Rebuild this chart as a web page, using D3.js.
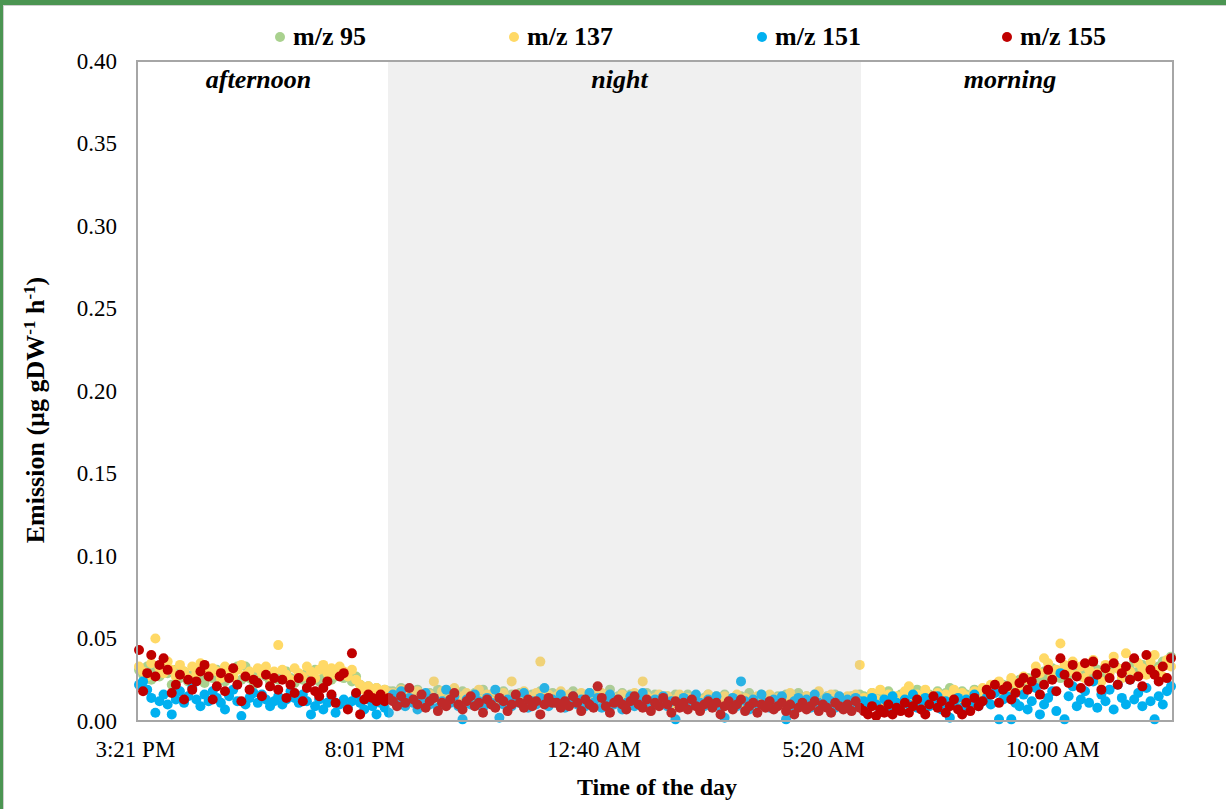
<!DOCTYPE html>
<html>
<head>
<meta charset="utf-8">
<script src="https://cdn.jsdelivr.net/npm/d3@7"></script>
<style>
  html, body { margin: 0; padding: 0; background: #ffffff; }
  svg { display: block; }
  text { font-family: "Liberation Serif", "Times New Roman", serif; fill: #000; }
</style>
</head>
<body>
<svg id="chart" width="1226" height="809"></svg>
<script>
// ---- DATA (sample index: one sample every 5 min starting 3:21 PM = index 0) ----
const seriesNames = ["m/z 95", "m/z 137", "m/z 151", "m/z 155"];
const seriesColors = ["#a9d18e", "#ffd966", "#00b0f0", "#c00000"];

const xTickIndex = [0, 56, 112, 168, 224];
const xTickLabels = ["3:21 PM", "8:01 PM", "12:40 AM", "5:20 AM", "10:00 AM"];
const yTicks = [0, 0.05, 0.10, 0.15, 0.20, 0.25, 0.30, 0.35, 0.40];

const periodNames = ["afternoon", "night", "morning"];
const nightStart = 61.8;   // ~8:30 PM
const nightEnd = 177.3;    // ~6:07 AM
const firstIndex = 1;

const mz95 = [
.031,.028,.033,.025,.030,.027,.034,.029,.022,.031,
.026,.030,.024,.028,.032,.027,.023,.029,.026,.031,
.028,.024,.030,.027,.033,.025,.033,.026,.022,.028,
.031,.027,.024,.029,.025,.028,.030,.026,.023,.028,
.025,.029,.027,.031,.024,.026,.029,.025,.027,.030,
.026,.028,.024,.027,.022,.019,.021,.018,.020,.017,
.019,.018,
.018,.015,.020,.013,.017,.014,.019,.016,.012,.017,
.015,.019,.013,.017,.014,.016,.012,.018,.015,.013,
.017,.014,.019,.012,.016,.015,.013,.018,.014,.016,
.013,.017,.015,.012,.016,.014,.018,.013,.015,.017,
.014,.016,.012,.015,.018,.013,.016,.014,.017,.015,
.013,.016,.014,.019,.012,.015,.017,.013,.016,.014,
.012,.015,.017,.013,.016,.014,.011,.015,.013,.016,
.014,.012,.016,.013,.015,.011,.014,.016,.012,.015,
.013,.016,.011,.014,.012,.015,.013,.017,.012,.014,
.016,.012,.014,.011,.015,.013,.016,.012,.014,.017,
.013,.015,.012,.016,.014,.011,.015,.013,.016,.012,
.014,.012,.015,.013,.016,
.015,.012,.017,.014,.016,.013,.018,.015,.012,.016,
.014,.017,.013,.019,.015,.012,.016,.014,.018,.013,
.017,.020,.015,.013,.018,.016,.014,.019,.017,.015,
.019,.016,.021,.018,.022,.020,.024,.021,.025,.023,
.026,.024,.028,.025,.030,.027,.032,.029,.026,.031,
.028,.033,.030,.027,.032,.029,.034,.031,.028,.033,
.030,.035,.032,.029,.033,.031,.036,.030,.034,.032,
.035,.031,.033,.036,.034,.039
];

const mz137 = [
.033,.030,.027,.035,.050,.032,.029,.036,.031,.027,
.034,.030,.026,.033,.029,.035,.031,.028,.032,.030,
.026,.033,.029,.027,.031,.034,.028,.030,.025,.032,
.029,.033,.027,.030,.046,.031,.028,.025,.032,.029,
.027,.033,.030,.026,.031,.034,.029,.032,.028,.033,
.030,.027,.031,.025,.022,.019,.021,.018,.020,.016,
.019,.017,
.017,.014,.019,.012,.016,.013,.018,.015,.011,.016,
.024,.014,.018,.012,.016,.020,.013,.015,.017,.011,
.015,.019,.013,.016,.012,.018,.014,.017,.010,.024,
.016,.013,.018,.015,.012,.017,.036,.014,.016,.012,
.015,.018,.013,.016,.011,.015,.017,.012,.014,.016,
.013,.017,.011,.015,.014,.012,.016,.010,.014,.017,
.012,.024,.015,.011,.014,.016,.012,.015,.010,.013,
.016,.011,.014,.012,.015,.010,.013,.016,.011,.014,
.012,.015,.010,.013,.016,.011,.014,.012,.009,.015,
.013,.011,.016,.012,.014,.010,.013,.017,.011,.014,
.012,.015,.010,.014,.018,.011,.013,.016,.012,.014,
.011,.015,.013,.016,.034,
.014,.011,.017,.013,.019,.012,.016,.010,.015,.013,
.018,.021,.014,.016,.012,.019,.015,.013,.017,.011,
.016,.014,.019,.012,.017,.015,.013,.018,.016,.020,
.017,.022,.019,.024,.021,.018,.026,.023,.020,.027,
.025,.022,.033,.029,.038,.035,.027,.031,.047,.034,
.030,.036,.028,.033,.026,.031,.037,.029,.024,.034,
.029,.039,.032,.026,.041,.030,.027,.035,.032,.028,
.036,.040,.031,.027,.037,.033
];

const mz151 = [
.022,.024,.019,.014,.005,.012,.016,.010,.004,.013,
.018,.011,.015,.020,.013,.009,.016,.012,.018,.014,
.011,.007,.015,.019,.012,.003,.010,.014,.017,.011,
.016,.013,.009,.012,.015,.010,.013,.018,.014,.011,
.016,.012,.004,.009,.013,.007,.011,.015,.005,.010,
.013,.008,.012,.016,.011,.007,.013,.009,.004,.011,
.008,.005,
.016,.012,.018,.009,.014,.011,.007,.013,.017,.010,
.014,.008,.012,.019,.011,.015,.009,.001,.013,.010,
.016,.012,.008,.014,.011,.019,.002,.010,.013,.009,
.015,.011,.017,.008,.012,.010,.014,.020,.009,.013,
.011,.016,.008,.012,.015,.010,.013,.009,.017,.011,
.014,.008,.012,.016,.010,.013,.007,.011,.015,.009,
.012,.017,.010,.008,.013,.011,.015,.009,.012,.001,
.010,.014,.008,.012,.016,.011,.009,.013,.010,.015,
.008,.002,.011,.014,.009,.024,.012,.007,.013,.010,
.016,.011,.008,.013,.010,.015,.001,.009,.012,.014,
.010,.013,.008,.016,.011,.009,.014,.012,.008,.015,
.011,.013,.009,.014,.012,
.012,.008,.014,.010,.006,.013,.009,.015,.011,.007,
.013,.010,.016,.008,.012,.014,.009,.011,.015,.007,
.012,.002,.010,.014,.008,.013,.011,.016,.009,.012,
.014,.010,.017,.001,.013,.015,.001,.011,.009,.016,
.007,.012,.020,.004,.010,.014,.018,.006,.029,.001,
.015,.021,.009,.013,.018,.011,.024,.008,.016,.012,
.019,.007,.022,.014,.010,.025,.013,.017,.009,.020,
.012,.001,.015,.010,.018,.021
];

const mz155 = [
.043,.018,.029,.040,.027,.034,.038,.031,.017,.022,
.028,.013,.025,.019,.024,.030,.034,.027,.013,.021,
.029,.018,.026,.032,.022,.012,.027,.019,.025,.023,
.015,.028,.021,.026,.019,.025,.014,.022,.017,.026,
.012,.020,.024,.018,.015,.020,.024,.016,.011,.027,
.029,.007,.041,.017,.004,.013,.016,.014,.012,.016,
.012,.014,
.012,.009,.015,.011,.020,.013,.010,.016,.008,.012,
.014,.006,.011,.009,.013,.017,.010,.007,.012,.015,
.009,.011,.005,.013,.010,.008,.014,.012,.006,.010,
.016,.011,.008,.013,.009,.012,.004,.010,.014,.011,
.011,.008,.012,.009,.015,.011,.006,.013,.010,.008,
.021,.014,.009,.005,.011,.013,.010,.007,.012,.015,
.010,.008,.013,.006,.011,.009,.014,.010,.005,.012,
.008,.011,.007,.013,.009,.006,.010,.012,.008,.011,
.004,.009,.012,.007,.010,.013,.006,.009,.011,.005,
.010,.008,.012,.007,.009,.011,.006,.010,.004,.008,
.011,.007,.009,.012,.006,.010,.008,.005,.011,.009,
.007,.010,.006,.012,.008,
.006,.004,.009,.003,.007,.005,.010,.004,.008,.006,
.011,.005,.009,.013,.007,.004,.010,.015,.008,.012,
.005,.009,.013,.007,.004,.011,.006,.014,.009,.012,
.019,.016,.022,.011,.019,.021,.013,.017,.023,.026,
.019,.024,.029,.016,.022,.031,.025,.018,.038,.028,
.023,.034,.027,.020,.035,.024,.036,.028,.019,.032,
.026,.035,.022,.029,.033,.025,.038,.027,.021,.040,
.031,.028,.024,.033,.026,.038
];

const seriesValues = [mz95, mz137, mz151, mz155];

// ---- CHART ----
const svg = d3.select("#chart");
const W = 1226, H = 809;
const plot = { left: 137, right: 1173, top: 61, bottom: 721 };

svg.append("rect").attr("x", 0).attr("y", 0).attr("width", W).attr("height", H).attr("fill", "#ffffff");

const x = d3.scaleLinear()
  .domain([firstIndex, firstIndex + mz95.length - 1])
  .range([139, 1171]);
const y = d3.scaleLinear().domain([0, 0.4]).range([plot.bottom, plot.top]);

// points
seriesValues.forEach((vals, si) => {
  svg.append("g")
    .selectAll("circle")
    .data(vals)
    .join("circle")
    .attr("cx", (d, i) => x(firstIndex + i))
    .attr("cy", d => y(d))
    .attr("r", 5)
    .attr("fill", seriesColors[si]);
});

// night shading (overlay, drawn above the points)
svg.append("rect")
  .attr("x", x(nightStart))
  .attr("y", plot.top)
  .attr("width", x(nightEnd) - x(nightStart))
  .attr("height", plot.bottom - plot.top)
  .attr("fill", "#b9b9b9")
  .attr("fill-opacity", 0.22);

// plot border
svg.append("rect")
  .attr("x", plot.left).attr("y", plot.top)
  .attr("width", plot.right - plot.left).attr("height", plot.bottom - plot.top)
  .attr("fill", "none").attr("stroke", "#a6a6a6").attr("stroke-width", 2);

// period labels
const periodCenters = [
  (x(firstIndex) + x(nightStart)) / 2 - 5,
  (x(nightStart) + x(nightEnd)) / 2 - 5,
  (x(nightEnd) + plot.right) / 2 - 7
];
svg.append("g").selectAll("text").data(periodNames).join("text")
  .attr("x", (d, i) => periodCenters[i])
  .attr("y", 88)
  .attr("text-anchor", "middle")
  .style("font-size", "26px")
  .style("font-style", "italic")
  .style("font-weight", "bold")
  .text(d => d);

// y axis
const yAxis = d3.axisLeft(y).tickValues(yTicks).tickFormat(d3.format(".2f")).tickSize(0).tickPadding(20);
const gy = svg.append("g").attr("transform", `translate(${plot.left},0)`).call(yAxis);
gy.select(".domain").remove();
gy.selectAll("text").style("font-size", "23px").style("font-family", "'Liberation Serif', 'Times New Roman', serif");

// x axis
const xAxis = d3.axisBottom(x).tickValues(xTickIndex).tickFormat((d, i) => xTickLabels[i]).tickSize(0).tickPadding(20);
const gx = svg.append("g").attr("transform", `translate(0,${plot.bottom})`).call(xAxis);
gx.select(".domain").remove();
gx.selectAll("text").style("font-size", "23px").style("font-family", "'Liberation Serif', 'Times New Roman', serif");

// axis titles
svg.append("text")
  .attr("x", 657).attr("y", 795)
  .attr("text-anchor", "middle")
  .style("font-size", "24px").style("font-weight", "bold")
  .text("Time of the day");

const yt = svg.append("text")
  .attr("transform", "translate(44,410) rotate(-90)")
  .attr("text-anchor", "middle")
  .style("font-size", "26px").style("font-weight", "bold");
yt.append("tspan").text("Emission (µg gDW");
yt.append("tspan").attr("baseline-shift", "super").style("font-size", "17px").text("-1");
yt.append("tspan").text(" h");
yt.append("tspan").attr("baseline-shift", "super").style("font-size", "17px").text("-1");
yt.append("tspan").text(")");

// legend
const legendX = [280, 514, 762, 1007];
const lg = svg.append("g").selectAll("g").data(seriesNames).join("g")
  .attr("transform", (d, i) => `translate(${legendX[i]},37)`);
lg.append("circle").attr("r", 5).attr("fill", (d, i) => seriesColors[i]);
lg.append("text").attr("x", 13).attr("y", 8)
  .style("font-size", "26px").style("font-weight", "bold").text(d => d);

// green frame (top and left)
svg.append("rect").attr("x", 0).attr("y", 0).attr("width", W).attr("height", 5).attr("fill", "#4b9552");
svg.append("rect").attr("x", 0).attr("y", 0).attr("width", 3).attr("height", H).attr("fill", "#4b9552");
svg.append("line").attr("x1", 3).attr("x2", W).attr("y1", 5.5).attr("y2", 5.5).attr("stroke", "#cfcfcf").attr("stroke-width", 1);
svg.append("line").attr("x1", 3.5).attr("x2", 3.5).attr("y1", 5).attr("y2", H).attr("stroke", "#cfcfcf").attr("stroke-width", 1);
</script>
</body>
</html>
